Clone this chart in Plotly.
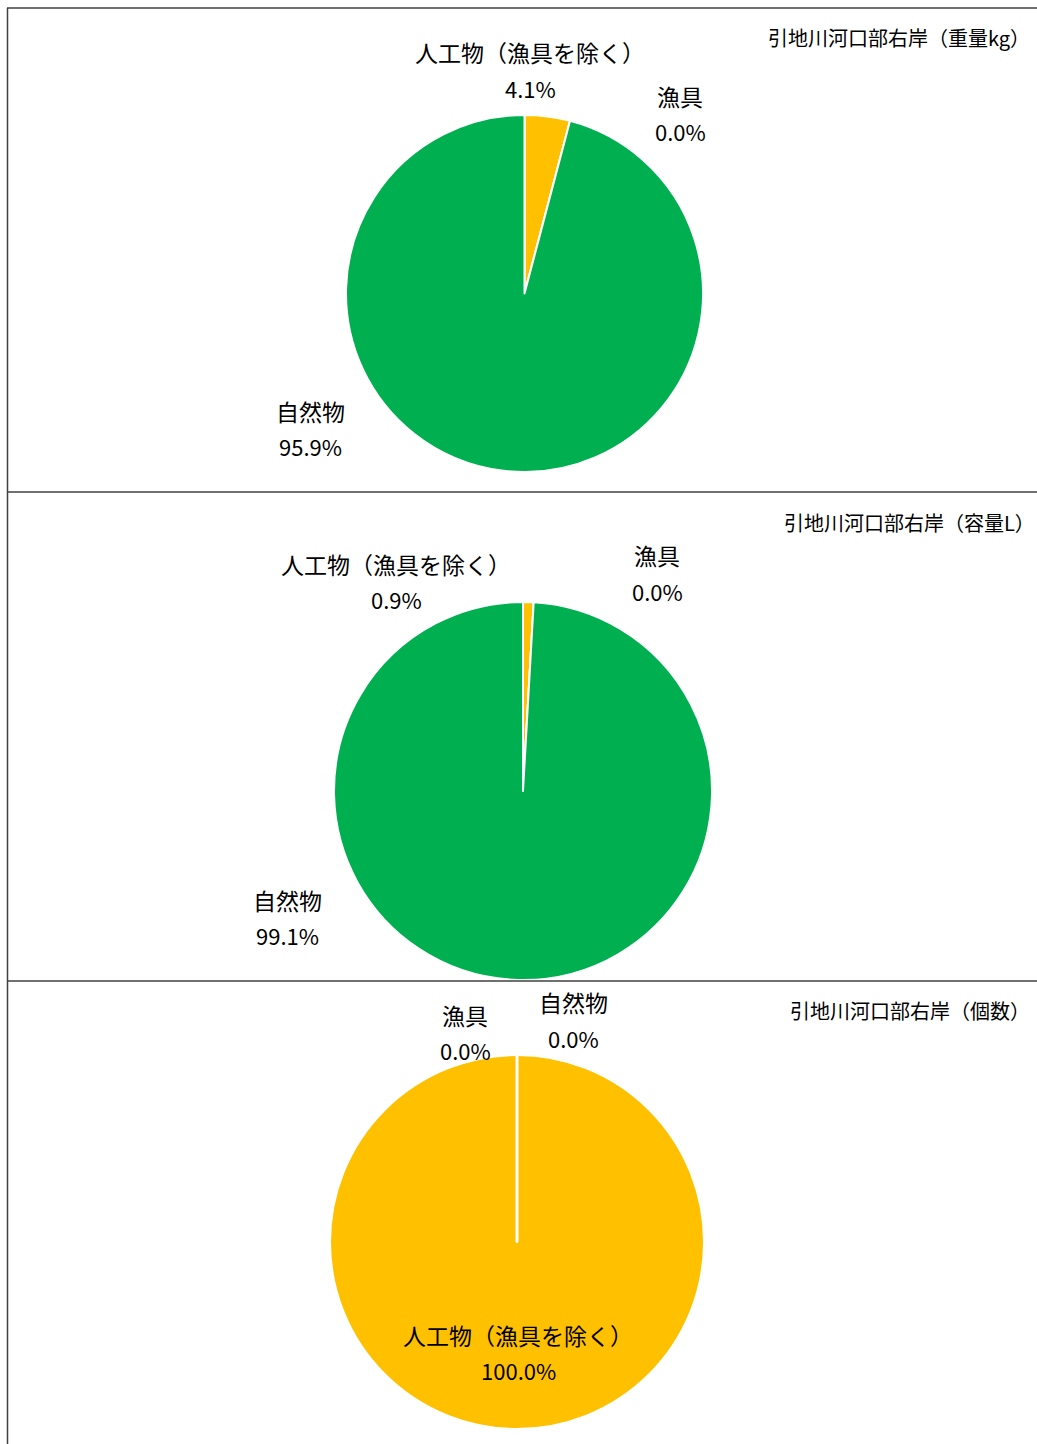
import plotly.graph_objects as go

W, H = 1037, 1444

categories = ["人工物（漁具を除く）", "漁具", "自然物"]
weight_pct = [4.1, 0.0, 95.9]
volume_pct = [0.9, 0.0, 99.1]
count_pct = [100.0, 0.0, 0.0]
titles = ["引地川河口部右岸（重量kg）", "引地川河口部右岸（容量L）", "引地川河口部右岸（個数）"]
colors = ["#FFC000", "#7F7F7F", "#00B050"]

FONT = "Noto Sans CJK JP, Noto Sans, sans-serif"

def px_x(x):
    return x / W

def px_y(y):
    return 1 - y / H

# pie boxes in pixels: (left, top, size)
boxes = [(346, 115, 357), (334, 602, 378), (330, 1055, 374)]
series = [weight_pct, volume_pct, count_pct]

fig = go.Figure()
for (l, t, s), vals in zip(boxes, series):
    fig.add_trace(go.Pie(
        labels=categories, values=vals, sort=False, direction="clockwise",
        rotation=0, textinfo="none", hoverinfo="label+percent",
        marker=dict(colors=colors, line=dict(color="white", width=2)),
        domain=dict(x=[px_x(l), px_x(l + s)], y=[px_y(t + s), px_y(t)]),
        showlegend=False,
    ))

# label placements (pixel centers of name line and percent line) per pie, per category
label_pos = [
    [(530, 52, 88), (680, 96, 131), (310, 411, 446)],
    [(396, 564, 599), (657, 555, 591), (287, 900, 935)],
    [(518, 1335, 1370), (465, 1015, 1050), (573, 1002, 1038)],
]
title_pos = [(1032, 37), (1037, 522), (1032, 1010)]

ann = []
for vals, poss, title, tp in zip(series, label_pos, titles, title_pos):
    for cat, v, (x, y1, y2) in zip(categories, vals, poss):
        ann.append(dict(x=px_x(x), y=px_y(y1), xref="paper", yref="paper", text=cat,
                        showarrow=False, xanchor="center", yanchor="middle",
                        font=dict(family=FONT, size=23, color="#000000")))
        ann.append(dict(x=px_x(x), y=px_y(y2), xref="paper", yref="paper", text=f"{v:.1f}%",
                        showarrow=False, xanchor="center", yanchor="middle",
                        font=dict(family=FONT, size=22, color="#000000")))
    ann.append(dict(x=px_x(tp[0]), y=px_y(tp[1]), xref="paper", yref="paper", text=title,
                    showarrow=False, xanchor="right", yanchor="middle",
                    font=dict(family=FONT, size=20, color="#000000")))

line_style = dict(color="#404040", width=1.5)
shapes = [
    dict(type="line", xref="paper", yref="paper", x0=px_x(7), x1=1, y0=px_y(8), y1=px_y(8), line=line_style),
    dict(type="line", xref="paper", yref="paper", x0=px_x(7), x1=1, y0=px_y(492), y1=px_y(492), line=line_style),
    dict(type="line", xref="paper", yref="paper", x0=px_x(7), x1=1, y0=px_y(981), y1=px_y(981), line=line_style),
    dict(type="line", xref="paper", yref="paper", x0=px_x(7.5), x1=px_x(7.5), y0=px_y(8), y1=0, line=line_style),
]
# zero-width slice boundaries of the count pie (start angle at 12 o'clock)
l, t, s = boxes[2]
shapes.append(dict(type="line", xref="paper", yref="paper",
                   x0=px_x(l + s / 2), x1=px_x(l + s / 2), y0=px_y(t + s / 2), y1=px_y(t),
                   line=dict(color="white", width=3)))

fig.update_layout(
    width=W, height=H, margin=dict(l=0, r=0, t=0, b=0),
    paper_bgcolor="white", plot_bgcolor="white",
    annotations=ann, shapes=shapes,
)
fig.write_html("out.html")
